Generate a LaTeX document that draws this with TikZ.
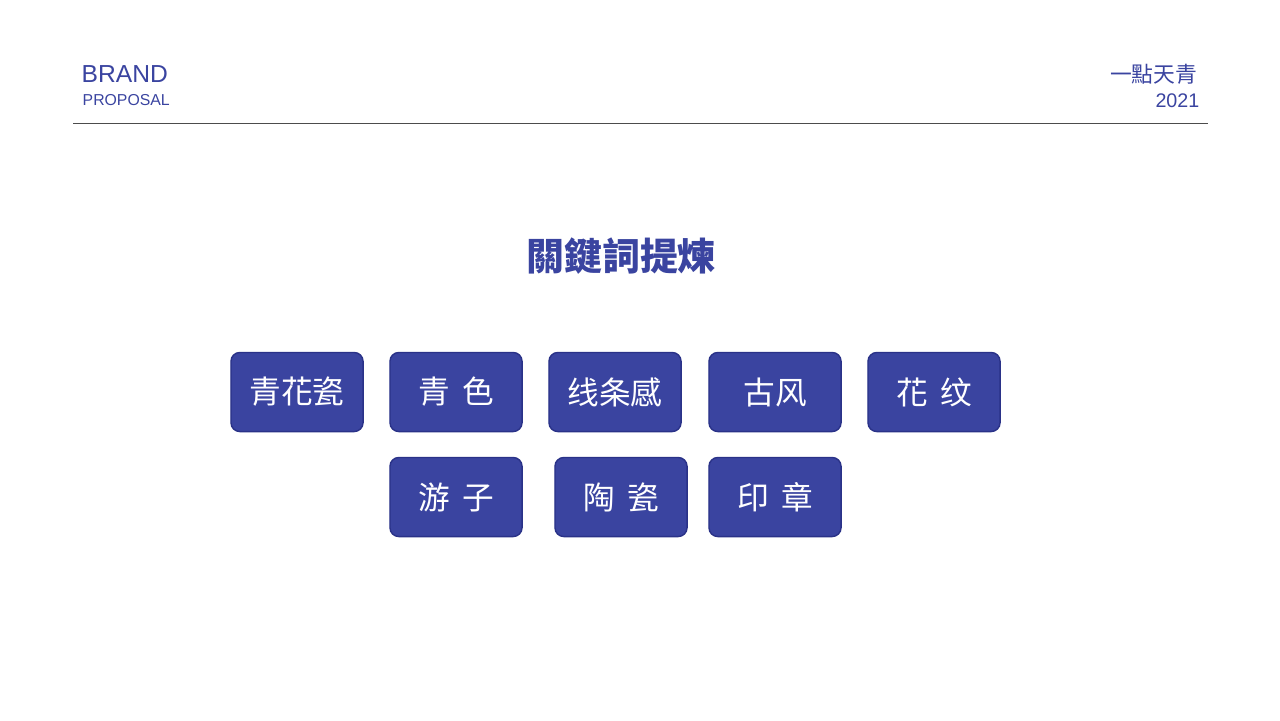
\documentclass[tikz,border=0pt]{standalone}
\usepackage{fontspec}
\setmainfont{Liberation Sans}
\newfontfamily\cjk{Noto Sans CJK TC}
\usetikzlibrary{positioning}
\definecolor{qing}{HTML}{3A44A0}
\definecolor{qingdark}{HTML}{2A3288}
\tikzset{
  keyword/.style={rectangle, rounded corners=2.5pt, fill=qing, draw=qingdark, line width=0.4pt,
    minimum width=1.32cm, minimum height=0.79cm, inner sep=0pt, text=white, font=\cjk\fontsize{9}{9}\selectfont},
  head/.style={text=qing, inner sep=0pt}
}
\begin{document}
\begin{tikzpicture}[x=0.01cm, y=-0.01cm]
\useasboundingbox (0,0) rectangle (1280,720);

% Header
\node[head, anchor=base west, font=\fontsize{7}{7}\selectfont] (brand) at (81,82) {BRAND};
\node[head, anchor=base west, font=\fontsize{4.5}{4.5}\selectfont] (proposal) at (82,105) {PROPOSAL};
\node[head, anchor=base east, font=\cjk\fontsize{6.2}{6.2}\selectfont] (name) at (1198,82) {一點天青};
\node[head, anchor=base east, font=\fontsize{5.6}{5.6}\selectfont] (year) at (1200,107) {2021};
\draw[black!70, line width=0.25pt] (73,123) -- (1208,123);

% Title
\node[head, font=\cjk\bfseries\fontsize{10.8}{10.8}\selectfont] (title) at (621,256) {關鍵詞提煉};

% Keywords, first row
\node[keyword] (k-1) at (297,392) {青花瓷};
\node[keyword] (k-2) at (456,392) {青\hspace{0.4em}色};
\node[keyword] (k-3) at (615,392) {线条感};
\node[keyword] (k-4) at (775,392) {古风};
\node[keyword] (k-5) at (934,392) {花\hspace{0.4em}纹};

% Keywords, second row
\node[keyword] (k-6) at (456,497) {游\hspace{0.4em}子};
\node[keyword] (k-7) at (621,497) {陶\hspace{0.4em}瓷};
\node[keyword] (k-8) at (775,497) {印\hspace{0.4em}章};
\end{tikzpicture}
\end{document}
